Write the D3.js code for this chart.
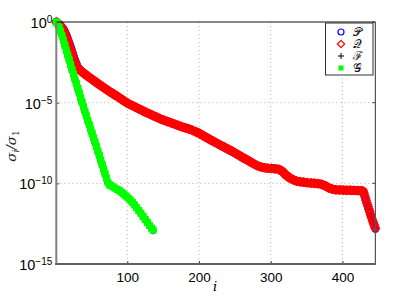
<!DOCTYPE html>
<html>
<head>
<meta charset="utf-8">
<script src="https://cdn.jsdelivr.net/npm/d3@7"></script>
<style>
  body { margin: 0; background: #fff; }
  svg { display: block; }
</style>
</head>
<body>
<div id="chart"></div>
<script>
// singular value decay, values are log10(sigma_i / sigma_1)
// [index, log10 value]
var qPts = [[1,0],[6,-0.2],[11,-0.5],[16,-1.05],[21,-1.7],[26,-2.4],[31,-2.88],[36,-3.06],
  [41,-3.23],[46,-3.4],[51,-3.56],[56,-3.72],[61,-3.88],[66,-4.03],[71,-4.18],[76,-4.33],
  [81,-4.47],[86,-4.61],[91,-4.76],[96,-4.91],[101,-5.05],[106,-5.16],[111,-5.27],[116,-5.38],
  [121,-5.49],[126,-5.6],[131,-5.7],[136,-5.8],[141,-5.9],[146,-6.0],[151,-6.09],[156,-6.17],
  [161,-6.25],[166,-6.33],[171,-6.41],[176,-6.49],[181,-6.56],[186,-6.63],[191,-6.72],[196,-6.81],
  [201,-6.92],[206,-7.05],[211,-7.17],[216,-7.3],[221,-7.42],[226,-7.54],[231,-7.66],[236,-7.77],
  [241,-7.89],[246,-8.01],[251,-8.14],[256,-8.27],[261,-8.4],[266,-8.52],[271,-8.65],[276,-8.78],
  [281,-8.9],[286,-8.98],[291,-9.03],[296,-9.06],[301,-9.08],[306,-9.1],[311,-9.13],[316,-9.25],
  [321,-9.48],[326,-9.65],[331,-9.77],[336,-9.86],[341,-9.9],[346,-9.93],[351,-9.96],[356,-9.98],
  [361,-10.0],[366,-10.02],[371,-10.06],[376,-10.15],[381,-10.28],[386,-10.36],[391,-10.4],[396,-10.41],
  [401,-10.42],[406,-10.43],[411,-10.43],[416,-10.44],[421,-10.45],[426,-10.46],[427,-10.47],[428,-10.48],
  [429,-10.5],[430,-10.6],[431,-10.75],[432,-10.9],[433,-11.05],[434,-11.2],[435,-11.33],[436,-11.45],
  [437,-11.6],[438,-11.75],[439,-11.9],[440,-12.03],[441,-12.17],[442,-12.3],[443,-12.43],[444,-12.55],
  [445,-12.68],[446,-12.8]];

var pPts = [[1,0],[6,-0.16],[11,-0.42],[16,-0.9],[21,-1.52],[26,-2.22],[31,-2.8],[36,-3.04],
  [41,-3.23],[46,-3.4],[51,-3.56],[56,-3.72],[61,-3.88],[66,-4.03],[71,-4.18],[76,-4.33],
  [81,-4.47],[86,-4.61],[91,-4.76],[96,-4.91],[101,-5.05],[106,-5.16],[111,-5.27],[116,-5.38],
  [121,-5.49],[126,-5.6],[131,-5.7],[136,-5.8],[141,-5.9],[146,-6.0],[151,-6.09],[156,-6.17],
  [161,-6.25],[166,-6.33],[171,-6.41],[176,-6.49],[181,-6.56],[186,-6.63],[191,-6.72],[196,-6.81],
  [201,-6.92],[206,-7.05],[211,-7.17],[216,-7.3],[221,-7.42],[226,-7.54],[231,-7.68],[236,-7.8],
  [241,-7.92],[246,-8.03],[251,-8.14],[256,-8.27],[261,-8.4],[266,-8.52],[271,-8.65],[276,-8.78],
  [281,-8.9],[286,-8.98],[291,-9.03],[296,-9.06],[301,-9.08],[306,-9.1],[311,-9.13],[316,-9.25],
  [321,-9.48],[326,-9.65],[331,-9.77],[336,-9.86],[341,-9.9],[346,-9.93],[351,-9.96],[356,-9.98],
  [361,-10.0],[366,-10.02],[371,-10.06],[376,-10.15],[381,-10.28],[386,-10.36],[391,-10.4],[396,-10.41],
  [401,-10.42],[406,-10.43],[411,-10.43],[416,-10.44],[421,-10.45],[426,-10.46],[427,-10.47],[428,-10.5],
  [429,-10.6],[430,-10.72],[431,-10.86],[432,-11.0],[433,-11.15],[434,-11.3],[435,-11.43],[436,-11.55],
  [437,-11.7],[438,-11.84],[439,-11.98],[440,-12.1],[441,-12.24],[442,-12.37],[443,-12.5],[444,-12.62],
  [445,-12.74],[446,-12.85]];

var gPts = [[1,0],[3,-0.12],[5,-0.35],[7,-0.58],[9,-0.85],[11,-1.14],[13,-1.44],[15,-1.75],
  [17,-2.05],[19,-2.35],[21,-2.65],[23,-2.95],[25,-3.24],[27,-3.53],[29,-3.82],[31,-4.11],
  [33,-4.4],[35,-4.7],[37,-4.98],[39,-5.26],[41,-5.54],[43,-5.82],[45,-6.1],[47,-6.37],
  [49,-6.64],[51,-6.91],[53,-7.18],[55,-7.45],[57,-7.72],[59,-8.0],[61,-8.28],[63,-8.56],
  [65,-8.84],[67,-9.12],[69,-9.4],[71,-9.68],[73,-9.95],[75,-10.08],[77,-10.14],[80,-10.22],
  [83,-10.3],[86,-10.38],[89,-10.46],[92,-10.55],[95,-10.66],[98,-10.78],[101,-10.9],[104,-11.03],
  [107,-11.18],[110,-11.34],[113,-11.51],[116,-11.68],[119,-11.86],[122,-12.05],[125,-12.24],[128,-12.43],
  [131,-12.61],[134,-12.78],[136,-12.9]];

var fPts = [[1,0],[3,-0.13],[5,-0.37],[7,-0.61],[9,-0.89],[11,-1.18],[13,-1.49],[15,-1.8],
  [17,-2.1],[19,-2.4],[21,-2.71],[23,-3.01],[25,-3.3],[27,-3.6],[29,-3.89],[31,-4.18],
  [33,-4.47],[35,-4.77],[37,-5.05],[39,-5.33],[41,-5.61],[43,-5.89],[45,-6.17],[47,-6.44],
  [49,-6.71],[51,-6.98],[53,-7.25],[55,-7.52],[57,-7.79],[59,-8.07],[61,-8.35],[63,-8.63],
  [65,-8.91],[67,-9.19],[69,-9.46],[71,-9.73],[73,-9.98],[75,-10.1],[77,-10.16],[80,-10.24],
  [83,-10.32],[86,-10.4],[89,-10.49],[92,-10.58],[95,-10.69],[98,-10.81],[101,-10.93],[104,-11.06],
  [107,-11.21],[110,-11.37],[113,-11.54],[116,-11.71],[119,-11.89],[122,-12.08],[125,-12.27],[128,-12.46],
  [131,-12.64],[134,-12.81],[136,-12.95]];

var xTicks = [100, 200, 300, 400];
var yTickExp = [0, -5, -10, -15];
var legendNames = ["\u{1D4AB}", "\u{1D4AC}", "\u2131", "\u{1D4A2}"];

var width = 415, height = 298;
var plotLeft = 56.3, plotRight = 375.4, plotTop = 22, plotBottom = 264;
var tailStart = 430; // from here on the markers stand apart

var svg = d3.select("#chart").append("svg")
  .attr("width", width)
  .attr("height", height);

var x = d3.scaleLinear().domain([1, 446]).range([plotLeft, plotRight]);
var y = d3.scaleLog().domain([1e-15, 1]).range([plotBottom, plotTop]);

function px(d) { return x(d[0]); }
function py(d) { return y(Math.pow(10, d[1])); }

// dotted grid
svg.append("g").selectAll("line").data(xTicks).enter().append("line")
  .attr("x1", d => x(d)).attr("x2", d => x(d))
  .attr("y1", plotTop).attr("y2", plotBottom)
  .attr("stroke", "#b0b0b0").attr("stroke-width", 1).attr("stroke-dasharray", "1,3");
svg.append("g").selectAll("line").data(yTickExp.slice(1, 3)).enter().append("line")
  .attr("x1", plotLeft).attr("x2", plotRight)
  .attr("y1", d => y(Math.pow(10, d))).attr("y2", d => y(Math.pow(10, d)))
  .attr("stroke", "#b0b0b0").attr("stroke-width", 1).attr("stroke-dasharray", "1,3");

var plot = svg.append("g");
var band = d3.line().x(px).y(py);

// every index carries a marker in the original, so the markers merge into a thick band
function bandPath(data, color, w) {
  plot.append("path").datum(data).attr("d", band)
    .attr("fill", "none").attr("stroke", color).attr("stroke-width", w)
    .attr("stroke-linejoin", "round").attr("stroke-linecap", "round");
}
function circles(data, color) {
  plot.append("g").selectAll("circle").data(data).enter().append("circle")
    .attr("cx", px).attr("cy", py).attr("r", 3)
    .attr("fill", "none").attr("stroke", color).attr("stroke-width", 1.2);
}
function diamonds(data, color) {
  plot.append("g").selectAll("path").data(data).enter().append("path")
    .attr("d", "M0,-4.2L4.2,0L0,4.2L-4.2,0Z")
    .attr("transform", d => "translate(" + px(d) + "," + py(d) + ")")
    .attr("fill", "none").attr("stroke", color).attr("stroke-width", 1.3);
}
function pluses(data, color) {
  plot.append("g").selectAll("path").data(data).enter().append("path")
    .attr("d", "M-3.5,0H3.5M0,-3.5V3.5")
    .attr("transform", d => "translate(" + px(d) + "," + py(d) + ")")
    .attr("stroke", color).attr("stroke-width", 1);
}
function squares(data, color) {
  plot.append("g").selectAll("rect").data(data).enter().append("rect")
    .attr("x", d => px(d) - 3).attr("y", d => py(d) - 3)
    .attr("width", 6).attr("height", 6)
    .attr("fill", color).attr("stroke", color).attr("stroke-width", 1);
}

bandPath(pPts.filter(d => d[0] < tailStart), "#0000ff", 8);
circles(pPts, "#0000ff");
bandPath(qPts.filter(d => d[0] < tailStart), "#ff0000", 9);
diamonds(qPts, "#ff0000");
bandPath(fPts, "#000000", 6);
pluses(fPts, "#000000");
bandPath(gPts, "#00ff00", 7);
squares(gPts, "#00ff00");

// axes
var xAxis = d3.axisBottom(x).tickValues(xTicks).tickSizeInner(-3).tickSizeOuter(0).tickPadding(8);
var gx = svg.append("g").attr("transform", "translate(0," + plotBottom + ")").call(xAxis);
gx.select(".domain").remove();
gx.selectAll(".tick line").attr("stroke", "#444");
gx.selectAll(".tick text").attr("font-family", "Liberation Sans, Arial, sans-serif")
  .attr("font-size", 13.5).attr("fill", "#000");

var yAxis = d3.axisLeft(y).tickValues(yTickExp.map(e => Math.pow(10, e)))
  .tickSizeInner(-3).tickSizeOuter(0).tickPadding(4);
var gy = svg.append("g").attr("transform", "translate(" + plotLeft + ",0)").call(yAxis);
gy.select(".domain").remove();
gy.selectAll(".tick line").attr("stroke", "#444");
gy.selectAll(".tick text").each(function(d, i) {
  var t = d3.select(this).text("")
    .attr("font-family", "Liberation Sans, Arial, sans-serif")
    .attr("font-size", 14.5).attr("fill", "#000").attr("dy", "0.38em");
  t.append("tspan").text("10");
  t.append("tspan").attr("dy", "-0.5em").attr("font-size", 10)
    .text(yTickExp[i] === 0 ? "0" : "\u2212" + (-yTickExp[i]));
});

// right side ticks
svg.append("g").selectAll("line").data(yTickExp).enter().append("line")
  .attr("x1", plotRight).attr("x2", plotRight - 3)
  .attr("y1", d => y(Math.pow(10, d))).attr("y2", d => y(Math.pow(10, d)))
  .attr("stroke", "#444");

// box
svg.append("line").attr("x1", plotLeft).attr("x2", plotRight).attr("y1", plotTop).attr("y2", plotTop)
  .attr("stroke", "#111").attr("stroke-width", 1);
svg.append("line").attr("x1", plotRight).attr("x2", plotRight).attr("y1", plotTop).attr("y2", plotBottom)
  .attr("stroke", "#555").attr("stroke-width", 1.2);
svg.append("line").attr("x1", plotLeft).attr("x2", plotLeft).attr("y1", plotTop).attr("y2", plotBottom + 1)
  .attr("stroke", "#808080").attr("stroke-width", 2);
svg.append("line").attr("x1", plotLeft - 1).attr("x2", plotRight + 0.6).attr("y1", plotBottom).attr("y2", plotBottom)
  .attr("stroke", "#606060").attr("stroke-width", 2);

// axis labels
svg.append("text").attr("x", 215).attr("y", 291).attr("text-anchor", "middle")
  .attr("font-family", "DejaVu Serif, serif").attr("font-style", "italic").attr("font-size", 13)
  .text("i");

var yl = svg.append("text").attr("transform", "translate(16,146) rotate(-90)")
  .attr("text-anchor", "middle")
  .attr("font-family", "DejaVu Serif, serif").attr("font-style", "italic").attr("font-size", 13.5)
  .attr("fill", "#222");
yl.append("tspan").text("\u03C3");
yl.append("tspan").attr("font-size", 9).attr("dy", 3).text("i");
yl.append("tspan").attr("dy", -3).text("/\u03C3");
yl.append("tspan").attr("font-size", 9).attr("dy", 3).attr("font-style", "normal").text("1");

// legend
var lg = svg.append("g");
lg.append("rect").attr("x", 325.5).attr("y", 23).attr("width", 47.5).attr("height", 52)
  .attr("fill", "#fff").attr("stroke", "#333").attr("stroke-width", 1);
var ly = [32, 44, 56, 68];
var lx = 341;
lg.append("circle").attr("cx", lx).attr("cy", ly[0]).attr("r", 3)
  .attr("fill", "none").attr("stroke", "#0000ff").attr("stroke-width", 1.2);
lg.append("path").attr("d", "M0,-3.6L3.6,0L0,3.6L-3.6,0Z")
  .attr("transform", "translate(" + lx + "," + ly[1] + ")")
  .attr("fill", "none").attr("stroke", "#ff0000").attr("stroke-width", 1.2);
lg.append("path").attr("d", "M-3,0H3M0,-3V3")
  .attr("transform", "translate(" + lx + "," + ly[2] + ")")
  .attr("stroke", "#000").attr("stroke-width", 1);
lg.append("rect").attr("x", lx - 2.5).attr("y", ly[3] - 2.5).attr("width", 5).attr("height", 5)
  .attr("fill", "#00ff00");
lg.selectAll("text.name").data(legendNames).enter().append("text")
  .attr("class", "name")
  .attr("x", 353).attr("y", (d, i) => ly[i] + 4)
  .attr("font-family", "DejaVu Serif, serif").attr("font-size", 12).attr("fill", "#111")
  .text(d => d);
</script>
</body>
</html>
